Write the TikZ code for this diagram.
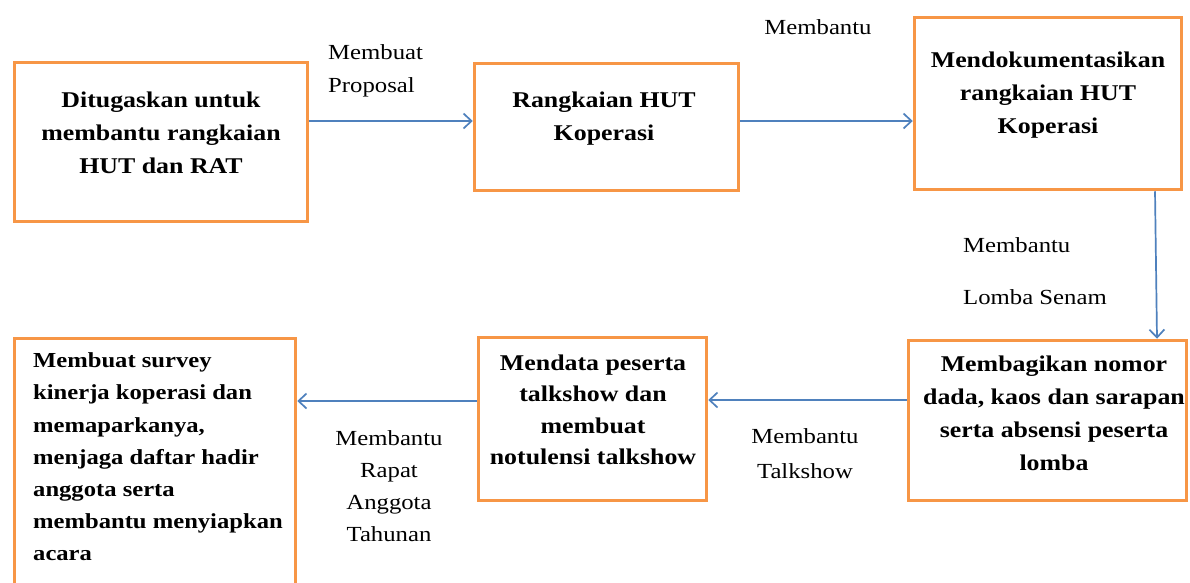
\documentclass[tikz,border=0pt]{standalone}
\usepackage{fontspec}
\setmainfont{Liberation Serif}[FakeStretch=1.15]
\usetikzlibrary{arrows.meta}
\definecolor{boxorange}{RGB}{247,150,70}
\definecolor{arrblue}{RGB}{79,129,189}
\tikzset{
  box/.style={draw=boxorange, line width=3.5pt, inner sep=0pt},
  bt/.style={font=\bfseries\fontsize{22.5}{33}\selectfont, align=center, inner sep=0pt, text=black},
  lbl/.style={font=\fontsize{21.5}{33}\selectfont, inner sep=0pt, text=black},
  arr/.style={draw=arrblue, line width=1.7pt, -{Straight Barb[length=8pt,width=15pt,line width=1.7pt]}}
}
\begin{document}
\begin{tikzpicture}[x=1pt,y=-1pt]
\fill[white] (0,0) rectangle (1190,582);
\useasboundingbox (0,0) rectangle (1190,582);

% boxes
\node[box, minimum width=293pt, minimum height=159pt] (b1) at (161,142) {};
\node[box, minimum width=264pt, minimum height=127pt] (b2) at (606.5,127) {};
\node[box, minimum width=267pt, minimum height=172pt] (b3) at (1048,103.5) {};
\node[box, minimum width=278pt, minimum height=160pt] (b4) at (1047.5,420.5) {};
\node[box, minimum width=228pt, minimum height=163pt] (b5) at (592.5,419) {};
\node[box, minimum width=281pt, minimum height=270pt] (b6) at (155,473.5) {};

% box texts
\node[bt] (t1) at (161,133) {Ditugaskan untuk\\membantu rangkaian\\HUT dan RAT};
\node[bt] (t2) at (604,119) {Rangkaian HUT\\Koperasi};
\node[bt] (t3) at (1048,95) {Mendokumentasikan\\rangkaian HUT\\Koperasi};
\node[bt] (t4) at (1054,413) {Membagikan nomor\\dada, kaos dan sarapan\\serta absensi peserta\\lomba};
\node[bt, font=\bfseries\fontsize{22.5}{31.5}\selectfont] (t5) at (593,410) {Mendata peserta\\talkshow dan\\membuat\\notulensi talkshow};
\node[bt, align=left, anchor=west, font=\bfseries\fontsize{21.4}{32.2}\selectfont] (t6) at (33,457) {Membuat survey\\kinerja koperasi dan\\memaparkanya,\\menjaga daftar hadir\\anggota serta\\membantu menyiapkan\\acara};

% connectors
\draw[arr] ([yshift=21pt]b1.east) -- ([yshift=21pt]b1.east -| b2.west);
\draw[arr] ([yshift=6pt]b2.east) -- ([yshift=6pt]b2.east -| b3.west);
\draw[arr] ([xshift=107pt]b3.south) -- ([xshift=109.5pt]b4.north);
\draw[arr] ([yshift=20.5pt]b4.west) -- ([yshift=20.5pt]b4.west -| b5.east);
\draw[arr] ([yshift=18pt]b5.west) -- ([yshift=18pt]b5.west -| b6.east);

% connector labels
\node[lbl, align=left, anchor=west] (l1) at (328,71) {Membuat\\Proposal};
\node[lbl] (l2) at (818,27) {Membantu};
\node[lbl, align=left, anchor=west, font=\fontsize{21.5}{52}\selectfont] (l3) at (963,271) {Membantu\\Lomba Senam};
\node[lbl, align=center, font=\fontsize{21.5}{35}\selectfont] (l4) at (805,454) {Membantu\\Talkshow};
\node[lbl, align=center, font=\fontsize{21.5}{32}\selectfont] (l5) at (389,486) {Membantu\\Rapat\\Anggota\\Tahunan};
\end{tikzpicture}
\end{document}
